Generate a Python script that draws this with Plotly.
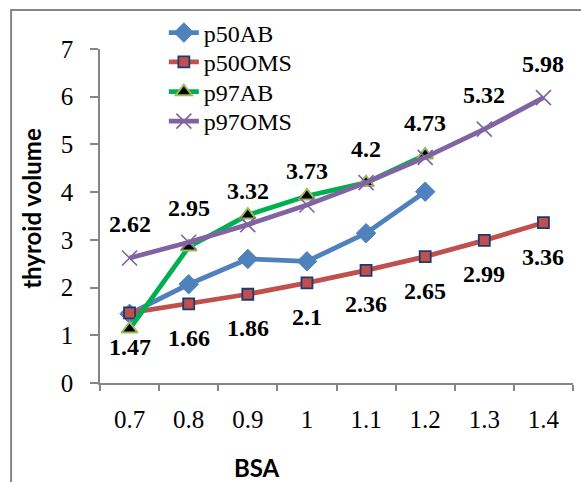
import plotly.graph_objects as go

bsa = ["0.7", "0.8", "0.9", "1", "1.1", "1.2", "1.3", "1.4"]
p50AB = [1.45, 2.07, 2.6, 2.55, 3.14, 4.01]
p50OMS = [1.47, 1.66, 1.86, 2.1, 2.36, 2.65, 2.99, 3.36]
p97AB = [1.13, 2.85, 3.52, 3.92, 4.2, 4.78]
p97OMS = [2.62, 2.95, 3.32, 3.73, 4.2, 4.73, 5.32, 5.98]

SERIF = "Liberation Serif"
fig = go.Figure()
fig.add_trace(go.Scatter(x=bsa[:len(p50AB)], y=p50AB, name="p50AB", mode="lines+markers",
                         legend="legend",
                         line=dict(color="#4F81BD", width=4.8),
                         marker=dict(symbol="diamond", size=15, color="#4F81BD",
                                     line=dict(color="#4F81BD", width=1))))
fig.add_trace(go.Scatter(x=bsa, y=p50OMS, name="p50OMS", mode="lines+markers",
                         legend="legend2",
                         line=dict(color="#C0504D", width=4.8),
                         marker=dict(symbol="square", size=11, color="#C0504D",
                                     line=dict(color="#1F3A6E", width=1.8))))
fig.add_trace(go.Scatter(x=bsa[:len(p97AB)], y=p97AB, name="p97AB", mode="lines+markers",
                         legend="legend3",
                         line=dict(color="#00B050", width=4.8),
                         marker=dict(symbol="triangle-up", size=14, color="black",
                                     line=dict(color="#9BBB59", width=2))))
fig.add_trace(go.Scatter(x=bsa, y=p97OMS, name="p97OMS", mode="lines+markers",
                         legend="legend4",
                         line=dict(color="#8064A2", width=4.8),
                         marker=dict(symbol="x-thin", size=15, color="#8064A2",
                                     line=dict(color="#8064A2", width=1.6))))

lab_font = dict(family=SERIF, size=24, color="black", weight="bold")
annotations = []
for i, yv in enumerate(p97OMS):
    annotations.append(dict(x=i, y=yv, xref="x", yref="y", text=str(yv), showarrow=False,
                            xanchor="center", yanchor="middle", yshift=34, font=lab_font))
for i, yv in enumerate(p50OMS):
    annotations.append(dict(x=i, y=yv, xref="x", yref="y", text=str(yv), showarrow=False,
                            xanchor="center", yanchor="middle", yshift=-34, font=lab_font))
annotations.append(dict(x=0.332, y=-0.254, xref="paper", yref="paper", text="BSA", showarrow=False,
                        xanchor="center", yanchor="middle",
                        font=dict(family="Lato", size=24, color="black", weight="bold")))
annotations.append(dict(x=-0.144, y=0.524, xref="paper", yref="paper", text="thyroid volume",
                        showarrow=False, textangle=-90, xanchor="center", yanchor="middle",
                        font=dict(family="Lato", size=24, color="black", weight="bold")))

leg_font = dict(family=SERIF, size=24, color="black")
def leg(yp):
    return dict(x=0.135, y=yp, xanchor="left", yanchor="middle", bgcolor="rgba(0,0,0,0)",
                font=leg_font)

fig.update_layout(
    width=581, height=482,
    margin=dict(l=100, r=8, t=49, b=99),
    paper_bgcolor="white", plot_bgcolor="white",
    showlegend=True,
    legend=leg(1.048), legend2=leg(0.960), legend3=leg(0.871), legend4=leg(0.783),
    annotations=annotations,
    shapes=[dict(type="rect", xref="paper", yref="paper", x0=-0.188, x1=1.2, y0=-0.6, y1=1.117,
                 line=dict(color="#868686", width=2), fillcolor="rgba(0,0,0,0)", layer="below")],
)
fig.update_xaxes(type="category", categoryorder="array", categoryarray=bsa, range=[-0.5, 7.5],
                 showline=True, linecolor="#868686", linewidth=1.5, tickson="boundaries",
                 ticks="outside", ticklen=6, tickcolor="#868686", tickwidth=1.5,
                 showgrid=False, zeroline=False, ticklabelstandoff=13,
                 tickfont=dict(family=SERIF, size=25, color="black"))
fig.update_yaxes(range=[0, 7], dtick=1, showline=True, linecolor="#868686", linewidth=1.5,
                 ticks="outside", ticklen=8, tickcolor="#868686", tickwidth=1.5,
                 showgrid=False, zeroline=False, ticklabelstandoff=12,
                 tickfont=dict(family=SERIF, size=25, color="black"))
fig.write_html("out.html")
